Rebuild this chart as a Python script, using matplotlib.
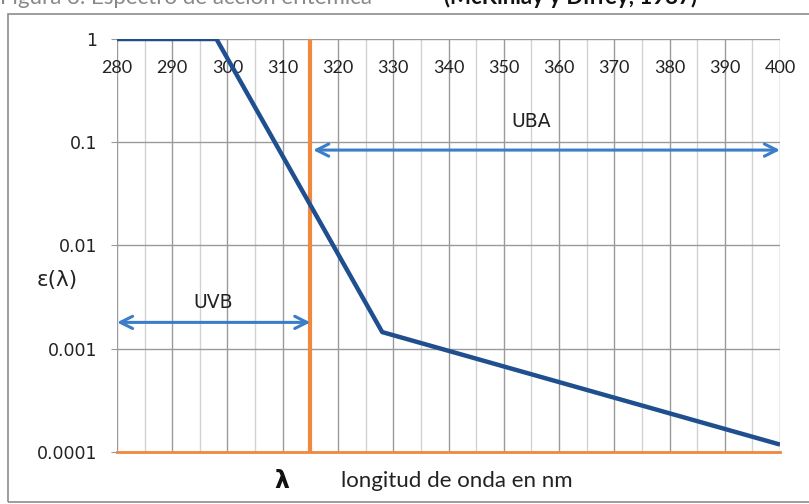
import matplotlib.pyplot as plt
from matplotlib.patches import Rectangle

# CIE erythema action spectrum
wavelength = [280, 298, 328, 400]
efficacy = [1.0, 1.0, 0.00145, 0.000118]

x_ticks = list(range(280, 401, 10))
y_ticks = [0.0001, 0.001, 0.01, 0.1, 1]
y_tick_labels = ['0.0001', '0.001', '0.01', '0.1', '1']

uvb_limit = 315
uvb_span = (280, 315)
uba_span = (315, 400)
uvb_arrow_y = 0.0018
uba_arrow_y = 0.084

plt.rcParams['font.family'] = ['Lato', 'DejaVu Sans']

fig = plt.figure(figsize=(8.09, 5.04), dpi=100)
ax = fig.add_axes([0.1446, 0.1032, 0.8196, 0.8194])

ax.set_yscale('log')
ax.set_xlim(280, 400)
ax.set_ylim(0.0001, 1)

# grid: dark every 10 nm, light every 5 nm, decades horizontally
ax.set_xticks(x_ticks)
ax.set_xticks(list(range(285, 400, 10)), minor=True)
ax.set_yticks(y_ticks)
ax.set_yticklabels(y_tick_labels, fontfamily='DejaVu Sans')
ax.yaxis.set_minor_locator(plt.NullLocator())
ax.grid(which='major', color='#9a9a9a', lw=1.0)
ax.grid(which='minor', axis='x', color='#d2d2d2', lw=1.0)
ax.set_axisbelow(True)

for side in ['left', 'right', 'top']:
    ax.spines[side].set_visible(False)
ax.spines['bottom'].set_color('#f0883e')
ax.spines['bottom'].set_linewidth(2)

ax.tick_params(axis='x', which='both', bottom=False, labelbottom=False,
               top=False, labeltop=True, pad=-30, labelsize=13,
               labelcolor='#222222')
ax.tick_params(axis='y', length=4, color='#9a9a9a', pad=10,
               labelsize=12.5, labelcolor='#222222')

ax.axvline(uvb_limit, color='#f0883e', lw=3, zorder=3)

ax.plot(wavelength, efficacy, color='#1f4f8f', lw=3.2,
        solid_capstyle='butt', zorder=4)

arrow = dict(arrowstyle='<->', color='#3b7dc8', lw=2.2, mutation_scale=22,
             shrinkA=0, shrinkB=0)
ax.annotate('', xy=(uvb_span[0], uvb_arrow_y), xytext=(uvb_span[1], uvb_arrow_y),
            arrowprops=arrow, zorder=5)
ax.annotate('', xy=(uba_span[0] + 0.5, uba_arrow_y), xytext=(uba_span[1], uba_arrow_y),
            arrowprops=arrow, zorder=5)
ax.text(297.5, 0.0028, 'UVB', ha='center', va='center', fontsize=13.5,
        fontfamily='DejaVu Sans', color='#222222')
ax.text(355, 0.16, 'UBA', ha='center', va='center', fontsize=13.5,
        fontfamily='DejaVu Sans', color='#222222')

ax.set_ylabel('ε(λ)', rotation=0, fontsize=15.5, fontfamily='DejaVu Sans',
              color='#222222', ha='center', va='center')
ax.yaxis.set_label_coords(-0.0905, 0.416)
ax.text(0.248, -0.07, 'λ', transform=ax.transAxes, ha='center', va='center',
        fontsize=17, fontweight='bold', fontfamily='DejaVu Sans', color='#111111')
ax.text(0.513, -0.07, 'longitud de onda en nm', transform=ax.transAxes,
        ha='center', va='center', fontsize=16, color='#222222')

# outer chart frame
fig.patches.append(Rectangle((8 / 809, 2 / 504), 1.0, 488 / 504,
                             transform=fig.transFigure, fill=False,
                             edgecolor='#8c8c8c', lw=1.2))

# caption above the chart, mostly cut off by the crop
fig.text(0.0, 1 - 4 / 504, 'Figura 3. Espectro de acción eritémica',
         ha='left', va='baseline', fontsize=16, color='#888888')
fig.text(697 / 809, 1 - 4 / 504, '(McKinlay y Diffey, 1987)',
         ha='right', va='baseline', fontsize=16, fontweight='bold',
         color='#111111')

fig.savefig('out.png', dpi=100)
